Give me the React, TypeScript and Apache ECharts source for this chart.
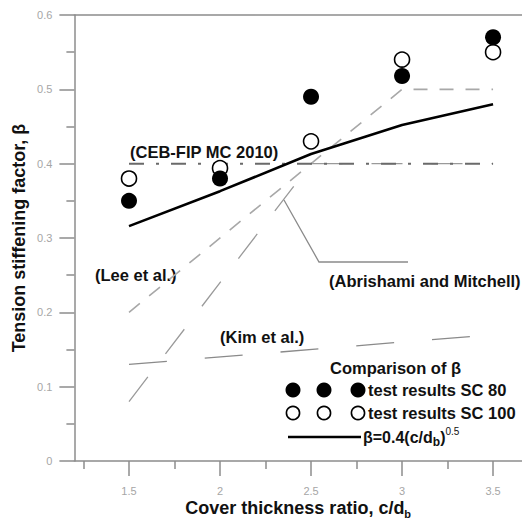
import React, { useEffect, useRef } from "react";
import * as echarts from "echarts";

// Cover thickness ratio c/db at which the specimens were tested
const ratios = [1.5, 2, 2.5, 3, 3.5];
// Measured tension stiffening factor, beta
const sc80 = [0.35, 0.38, 0.49, 0.518, 0.57];
const sc100 = [0.38, 0.394, 0.43, 0.54, 0.55];
// Proposed relation beta = 0.4(c/db)^0.5
const proposed = [0.316, 0.363, 0.413, 0.452, 0.48];
// Code / literature models: [c/db, beta]
const cebFip: number[][] = [[1.5, 0.4], [3.5, 0.4]];
const leeEtAl: number[][] = [[1.5, 0.2], [3, 0.5], [3.5, 0.5]];
const abrishamiMitchell: number[][] = [[1.5, 0.08], [2.5, 0.4], [3.5, 0.4]];
const kimEtAl: number[][] = [[1.5, 0.13], [3.5, 0.17]];
// Axis ticks
const xMajorTicks = [1.5, 2, 2.5, 3, 3.5];
const xMinorTicks = [1.25, 1.75, 2.25, 2.75, 3.25];

const FONT = '"Liberation Sans", Arial, sans-serif';
const AXIS_GRAY = "#8c8c8c";
const LABEL_GRAY = "#a6a6a6";

function pairs(xs: number[], ys: number[]) {
  return xs.map((x, i) => [x, ys[i]]);
}

export default function App() {
  const ref = useRef<HTMLDivElement>(null);

  useEffect(() => {
    if (!ref.current) return;
    const chart = echarts.init(ref.current, null, { renderer: "svg" });

    const boldText = (text: string, x: number, y: number, size = 16.5) => ({
      type: "text",
      x,
      y,
      style: {
        text,
        font: `bold ${size}px ${FONT}`,
        fill: "#111",
        textAlign: "left",
        textVerticalAlign: "middle",
      },
    });

    chart.setOption({
      animation: false,
      backgroundColor: "#fff",
      grid: { left: 74.4, right: 0, top: 15, bottom: 58, containLabel: false, outerBoundsMode: "none" },
      xAxis: [
        {
          type: "value",
          position: "bottom",
          min: 1.2,
          max: 3.659,
          axisLine: { show: true, lineStyle: { color: AXIS_GRAY, width: 1.5 } },
          axisTick: {
            show: true,
            customValues: xMajorTicks,
            length: 15,
            lineStyle: { color: AXIS_GRAY, width: 1.5 },
          },
          axisLabel: {
            customValues: xMajorTicks,
            margin: 24,
            color: LABEL_GRAY,
            fontSize: 11,
            fontFamily: FONT,
          },
          splitLine: { show: false },
          name: "Cover thickness ratio, c/d{sub|b}",
          nameLocation: "middle",
          nameGap: 36,
          nameMoveOverlap: false,
          nameTextStyle: {
            fontFamily: FONT,
            fontWeight: "bold",
            fontSize: 18,
            color: "#111",
            lineHeight: 18,
            rich: {
              sub: {
                fontFamily: FONT,
                fontWeight: "bold",
                fontSize: 11,
                color: "#111",
                lineHeight: 22,
                verticalAlign: "bottom",
              },
            },
          },
        },
        {
          type: "value",
          position: "bottom",
          min: 1.2,
          max: 3.659,
          axisLine: { show: false },
          axisTick: {
            show: true,
            customValues: xMinorTicks,
            length: 8,
            lineStyle: { color: AXIS_GRAY, width: 1.5 },
          },
          axisLabel: { show: false },
          splitLine: { show: false },
        },
        {
          type: "value",
          position: "top",
          min: 1.2,
          max: 3.659,
          axisLine: { show: true, lineStyle: { color: AXIS_GRAY, width: 1.5 } },
          axisTick: { show: false },
          axisLabel: { show: false },
          splitLine: { show: false },
        },
      ],
      yAxis: {
        type: "value",
        min: 0,
        max: 0.6,
        interval: 0.1,
        axisLine: { show: true, lineStyle: { color: AXIS_GRAY, width: 1.5 } },
        axisTick: { show: true, length: 15, lineStyle: { color: AXIS_GRAY, width: 1.5 } },
        minorTick: { show: true, splitNumber: 2, length: 8, lineStyle: { color: AXIS_GRAY, width: 1.5 } },
        axisLabel: {
          margin: 22,
          color: LABEL_GRAY,
          fontSize: 11,
          fontFamily: FONT,
          formatter: (v: number) => (v === 0 ? "0" : v.toFixed(1)),
        },
        splitLine: { show: false },
        minorSplitLine: { show: false },
        name: "Tension stiffening factor, β",
        nameLocation: "middle",
        nameGap: 46,
        nameMoveOverlap: false,
        nameTextStyle: { fontFamily: FONT, fontWeight: "bold", fontSize: 18, color: "#111" },
      },
      series: [
        {
          name: "Kim et al.",
          type: "line",
          data: kimEtAl,
          symbol: "none",
          lineStyle: { color: "#8a8a8a", width: 1.3, type: [38, 38] },
        },
        {
          name: "Abrishami and Mitchell",
          type: "line",
          data: abrishamiMitchell,
          symbol: "none",
          lineStyle: { color: "#9a9a9a", width: 1.3, type: [31, 29] },
        },
        {
          name: "Lee et al.",
          type: "line",
          data: leeEtAl,
          symbol: "none",
          lineStyle: { color: "#a8a8a8", width: 1.6, type: [14, 12] },
        },
        {
          name: "CEB-FIP MC 2010",
          type: "line",
          data: cebFip,
          symbol: "none",
          lineStyle: { color: "#6a6a6a", width: 2, type: [15, 12, 3, 12] },
        },
        {
          name: "β=0.4(c/db)^0.5",
          type: "line",
          data: pairs(ratios, proposed),
          symbol: "none",
          lineStyle: { color: "#000", width: 2.6 },
        },
        {
          name: "test results SC 100",
          type: "scatter",
          data: pairs(ratios, sc100),
          symbol: "circle",
          symbolSize: 15,
          itemStyle: { color: "#fff", borderColor: "#000", borderWidth: 1.6, opacity: 1 },
          z: 3,
        },
        {
          name: "test results SC 80",
          type: "scatter",
          data: pairs(ratios, sc80),
          symbol: "circle",
          symbolSize: 16,
          itemStyle: { color: "#000", opacity: 1 },
          z: 4,
        },
      ],
      graphic: [
        boldText("(CEB-FIP MC 2010)", 130, 152),
        boldText("(Lee et al.)", 95, 275),
        boldText("(Kim et al.)", 220, 337),
        boldText("(Abrishami and Mitchell)", 329, 281),
        // leader from the Abrishami and Mitchell line to its label
        {
          type: "polyline",
          shape: { points: [[284, 200], [319, 262], [408, 262]] },
          style: { stroke: "#8a8a8a", lineWidth: 1.3, fill: null },
        },
        // legend
        boldText("Comparison of β", 330, 368),
        { type: "circle", shape: { cx: 293, cy: 390, r: 7.5 }, style: { fill: "#000" } },
        { type: "circle", shape: { cx: 324, cy: 390, r: 7.5 }, style: { fill: "#000" } },
        { type: "circle", shape: { cx: 358, cy: 390, r: 7.5 }, style: { fill: "#000" } },
        boldText("test results SC 80", 368, 390),
        { type: "circle", shape: { cx: 293, cy: 413, r: 6.6 }, style: { fill: "#fff", stroke: "#000", lineWidth: 1.6 } },
        { type: "circle", shape: { cx: 324, cy: 413, r: 6.6 }, style: { fill: "#fff", stroke: "#000", lineWidth: 1.6 } },
        { type: "circle", shape: { cx: 358, cy: 413, r: 6.6 }, style: { fill: "#fff", stroke: "#000", lineWidth: 1.6 } },
        boldText("test results SC 100", 368, 413),
        {
          type: "line",
          shape: { x1: 288, y1: 437, x2: 361, y2: 437 },
          style: { stroke: "#000", lineWidth: 2.6 },
        },
        {
          type: "text",
          x: 363,
          y: 437,
          style: {
            text: "{m|β=0.4(c/d}{sub|b}{m|)}{sup|0.5}",
            textAlign: "left",
            textVerticalAlign: "middle",
            rich: {
              m: { fontFamily: FONT, fontWeight: "bold", fontSize: 16, fill: "#111", lineHeight: 16, verticalAlign: "middle" },
              sub: { fontFamily: FONT, fontWeight: "bold", fontSize: 12, fill: "#111", lineHeight: 22, verticalAlign: "bottom" },
              sup: { fontFamily: FONT, fontSize: 10, fill: "#111", lineHeight: 20, verticalAlign: "top" },
            },
          },
        },
      ],
    });

    return () => chart.dispose();
  }, []);

  return (
    <div
      ref={ref}
      style={{ position: "fixed", left: 0, top: 0, width: 522, height: 519, background: "#fff" }}
    />
  );
}
